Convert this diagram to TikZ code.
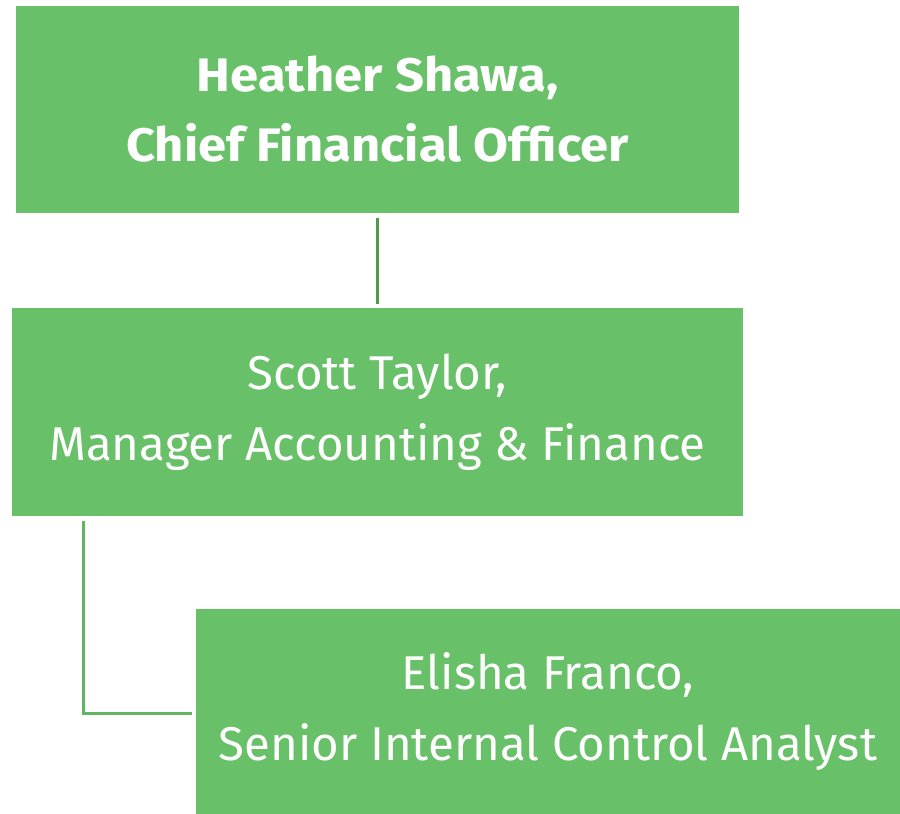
\documentclass[tikz,border=0pt]{standalone}
\usepackage{fontspec}
\setmainfont{Fira Sans}
\newfontfamily\widebold[FakeStretch=1.08]{Fira Sans Bold}
\definecolor{boxgreen}{RGB}{104,192,104}
\definecolor{linedark}{RGB}{80,155,75}
\definecolor{linelight}{RGB}{98,180,96}
\begin{document}
\begin{tikzpicture}[x=1pt,y=-1pt,
  orgbox/.style={fill=boxgreen, draw=none, text=white, align=center, inner sep=0pt,
    font=\fontsize{47.4}{71}\selectfont},
  conn/.style={line width=3pt}]
\useasboundingbox (0,0) rectangle (900,814);
\node[orgbox, minimum width=723pt, minimum height=207pt, font=\fontsize{47}{70}\widebold] (cfo) at (377.5,109.5) {Heather Shawa,\\Chief Financial Officer};
\node[orgbox, minimum width=731pt, minimum height=208pt] (mgr) at (377.5,412) {Scott Taylor,\\Manager Accounting \& Finance};
\node[orgbox, minimum width=704pt, minimum height=205pt] (ana) at (548,711.5) {Elisha Franco,\\Senior Internal Control Analyst};
\coordinate (c1a) at ([yshift=-5pt]cfo.south);
\coordinate (c1b) at ([yshift=4pt]mgr.north);
\draw[conn, linedark] (c1a) -- (c1b);
\coordinate (c2a) at ([yshift=-5pt]mgr.south west -| 83,0);
\coordinate (c2b) at ([xshift=-4pt]ana.west |- 0,713);
\draw[conn, linelight] (c2a) |- (c2b);
\end{tikzpicture}
\end{document}
